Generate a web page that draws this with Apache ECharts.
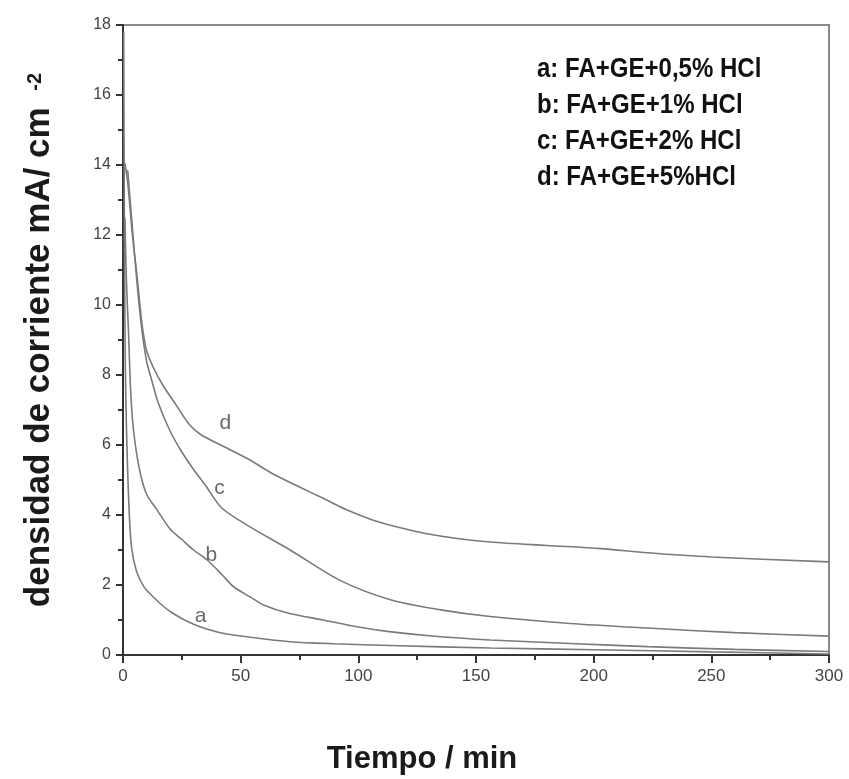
<!DOCTYPE html>
<html>
<head>
<meta charset="utf-8">
<script src="https://cdn.jsdelivr.net/npm/echarts@6/dist/echarts.min.js"></script>
<style>
  html, body { margin: 0; padding: 0; background: #fff; }
  #chart { width: 849px; height: 779px; }
</style>
</head>
<body>
<div id="chart"></div>
<script>
// curvas [tiempo (min), densidad de corriente (mA/cm2)]
const curveA = [[0.3,17.8],[0.6,12],[1,8.2],[1.5,6.4],[2.5,4.3],[3.6,3.1],[5.7,2.4],[9,1.94],[13,1.65],[17,1.4],[21,1.2],[27,0.97],[33,0.8],[42,0.63],[55,0.5],[71,0.38],[90,0.32],[114,0.27],[156,0.2],[200,0.15],[250,0.09],[300,0.03]];
const curveB = [[0.8,12.5],[1.5,10.6],[2.3,9.3],[3.3,7.5],[4.5,6.4],[7,5.3],[10,4.6],[14.5,4.14],[20,3.6],[25,3.3],[30,3.0],[36,2.7],[42,2.3],[47,1.95],[54,1.66],[60,1.42],[70,1.2],[85,1.0],[100,0.8],[114,0.66],[135,0.52],[156,0.43],[190,0.33],[223,0.24],[260,0.16],[300,0.1]];
const curveC = [[2,13.85],[4,12.2],[6,10.6],[8,9.3],[10,8.4],[12,7.9],[15,7.2],[20,6.4],[25,5.8],[30,5.3],[35,4.85],[42,4.2],[54,3.66],[71,3.0],[92,2.14],[114,1.57],[135,1.29],[156,1.1],[190,0.9],[223,0.77],[260,0.64],[300,0.54]];
const curveD = [[0.8,14.05],[2,13.5],[4,12],[6,10.8],[8,9.5],[10,8.7],[13,8.2],[17,7.7],[22,7.2],[28,6.6],[33,6.3],[43,5.95],[54,5.57],[63,5.2],[75,4.8],[85,4.48],[95,4.15],[106,3.86],[117,3.65],[128,3.48],[142,3.33],[156,3.23],[180,3.13],[203,3.04],[223,2.92],[250,2.8],[300,2.66]];

const curveNames = ['a', 'b', 'c', 'd'];
const labelPos = [[33,1.1],[37.5,2.86],[41,4.77],[43.5,6.63]];
const legendLines = ['a: FA+GE+0,5% HCl', 'b: FA+GE+1% HCl', 'c: FA+GE+2% HCl', 'd: FA+GE+5%HCl'];

const chart = echarts.init(document.getElementById('chart'));

function curve(name, data) {
    return {
        name: name,
        type: 'line',
        data: data,
        showSymbol: false,
        smooth: 0.3,
        lineStyle: { color: '#7a7a7a', width: 1.6 },
        silent: true
    };
}

const option = {
    animation: false,
    backgroundColor: '#fff',
    grid: {
        left: 123, right: 20, top: 25, bottom: 124,
        outerBoundsMode: 'none',
        show: true, borderColor: '#8a8a8a', borderWidth: 2
    },
    xAxis: {
        type: 'value',
        min: 0, max: 300, interval: 50,
        name: 'Tiempo / min',
        nameLocation: 'middle',
        nameGap: 89,
        nameTextStyle: {
            fontFamily: 'Liberation Sans', fontWeight: 'bold', fontSize: 31, color: '#1a1a1a',
            padding: [0, 108, 0, 0]
        },
        axisLine: { onZero: false, lineStyle: { color: '#333', width: 2 } },
        axisTick: { length: 8, lineStyle: { color: '#333', width: 2 } },
        minorTick: { show: true, splitNumber: 2, length: 5, lineStyle: { color: '#333', width: 2 } },
        splitLine: { show: false },
        axisLabel: { fontFamily: 'Liberation Sans', fontSize: 17, color: '#444', margin: 13 }
    },
    yAxis: {
        type: 'value',
        min: 0, max: 18, interval: 2,
        name: '{m|densidad de corriente mA/ cm}{s|   -2}',
        nameLocation: 'middle',
        nameRotate: 90,
        nameGap: 66,
        nameTextStyle: {
            rich: {
                m: { fontFamily: 'Liberation Sans', fontWeight: 'bold', fontSize: 35, color: '#1a1a1a', lineHeight: 46, verticalAlign: 'bottom' },
                s: { fontFamily: 'Liberation Sans', fontWeight: 'bold', fontSize: 20, color: '#1a1a1a', lineHeight: 46, verticalAlign: 'bottom', padding: [0, 0, 12, 0] }
            }
        },
        axisLine: { onZero: false, lineStyle: { color: '#333', width: 2 } },
        axisTick: { length: 7, lineStyle: { color: '#333', width: 2 } },
        minorTick: { show: true, splitNumber: 2, length: 5, lineStyle: { color: '#333', width: 2 } },
        splitLine: { show: false },
        axisLabel: { fontFamily: 'Liberation Sans', fontSize: 16, color: '#444', margin: 12 }
    },
    series: [
        curve('a', curveA),
        curve('b', curveB),
        curve('c', curveC),
        curve('d', curveD),
        {
            name: 'etiquetas',
            type: 'scatter',
            symbolSize: 0,
            silent: true,
            data: labelPos.map((p, i) => ({ value: p, name: curveNames[i] })),
            label: {
                show: true,
                position: 'inside',
                formatter: '{b}',
                fontFamily: 'Liberation Sans',
                fontSize: 21,
                color: '#444'
            }
        }
    ],
    graphic: legendLines.map((txt, i) => ({
        type: 'text',
        x: 537,
        y: 70 + i * 36,
        scaleX: 0.89,
        style: {
            text: txt,
            fontFamily: 'Liberation Sans',
            fontWeight: 'bold',
            fontSize: 27,
            verticalAlign: 'middle',
            fill: '#111'
        }
    }))
};

chart.setOption(option);
</script>
</body>
</html>
